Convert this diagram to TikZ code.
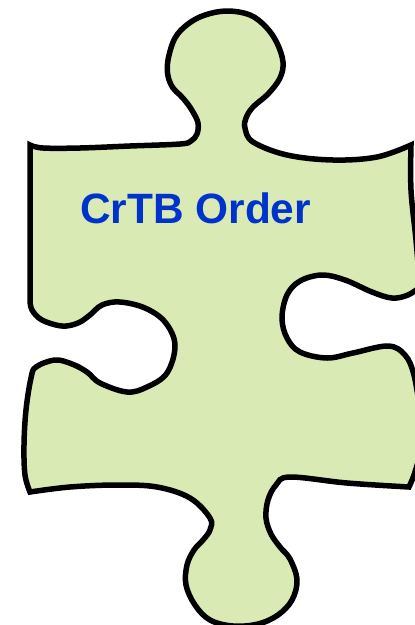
\documentclass[tikz,border=0pt]{standalone}
\usepackage{fontspec}
\setmainfont{Liberation Sans}
\usetikzlibrary{positioning}
\definecolor{piecegreen}{RGB}{217,234,180}
\definecolor{labelblue}{RGB}{0,51,204}

\begin{document}
\begin{tikzpicture}[x=1pt, y=-1pt, piece/.style={draw=black, fill=piecegreen, line width=5.5pt, line join=miter, miter limit=10}]
        \useasboundingbox (0,0) rectangle (415,625);
        \clip (0,0) rectangle (415,625);

         %puzzle outline
        \draw[piece] plot[smooth, tension=0.6] coordinates {(30,145) (43,148) (80,148) (130,146) (180,144) (191,141) (197,134) (198,123) (193,112) (187,103) (180,95) (173,88) (168,76) (168,60) (175,38) (188,24) (205,15) (227,11) (250,15) (266,27) (277,43) (283,62) (280,78) (268,94) (253,107) (246,118) (245,128) (253,142) (287,155) (333,160) (377,157) (411,145)}
        -- plot[smooth, tension=0.6] coordinates {(411,145) (411,190) (416,240) (420,287)}
        -- plot[smooth, tension=0.6] coordinates {(420,287) (408,295) (392,298) (372,292) (345,280) (322,275) (300,281) (287,295) (282,318) (287,338) (300,352) (327,358) (353,353) (388,346) (405,355) (414,375) (420,410)}
        -- plot[smooth, tension=0.6] coordinates {(420,410) (420,450) (415,472) (409,487)}
        -- plot[smooth, tension=0.6] coordinates {(409,487) (347,483) (290,477) (276,485) (268,500) (266,518) (271,534) (280,547) (290,559) (297,580) (292,600) (278,615) (258,624) (233,626) (210,620) (195,605) (186,585) (187,565) (194,550) (203,540) (210,530) (210,518) (190,498) (157,487) (117,485) (70,487) (30,492)}
        -- plot[smooth, tension=0.6] coordinates {(30,492) (25,475) (24,445) (26,410) (31,378) (36,367) (55,360) (72,364) (87,372) (100,383) (127,392) (147,387) (167,373) (175,345) (165,322) (145,308) (120,302) (102,305) (90,315) (78,323) (62,326) (42,320) (32,310) (30,300)}
        -- cycle;

        \node[text=labelblue, font=\bfseries\fontsize{42.4}{42.4}\selectfont, anchor=base west, inner sep=0pt] (orderlabel) at (80,223) {CrTB Order};
\end{tikzpicture}
\end{document}
